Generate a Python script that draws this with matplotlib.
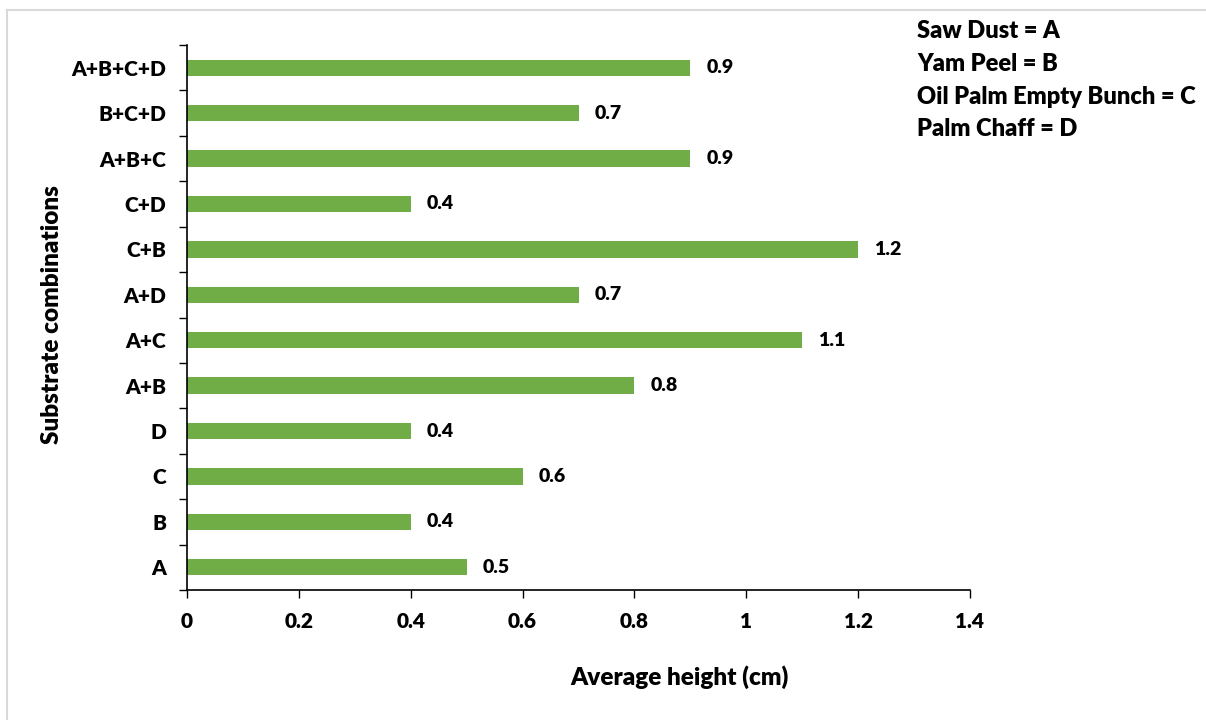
import matplotlib
matplotlib.use("Agg")
import matplotlib.pyplot as plt
from matplotlib.lines import Line2D
from matplotlib.ticker import FixedLocator, NullFormatter

plt.rcParams['font.family'] = ['Lato', 'DejaVu Sans']

# Substrate combinations, bottom to top
categories = ['A', 'B', 'C', 'D', 'A+B', 'A+C', 'A+D', 'C+B', 'C+D',
              'A+B+C', 'B+C+D', 'A+B+C+D']
heights = [0.5, 0.4, 0.6, 0.4, 0.8, 1.1, 0.7, 1.2, 0.4, 0.9, 0.7, 0.9]
x_ticks = [0, 0.2, 0.4, 0.6, 0.8, 1.0, 1.2, 1.4]
x_tick_labels = ['0', '0.2', '0.4', '0.6', '0.8', '1', '1.2', '1.4']
key_lines = ['Saw Dust = A', 'Yam Peel = B', 'Oil Palm Empty Bunch = C', 'Palm Chaff = D']

WEIGHT = 'heavy'

W, H = 1206, 720
fig = plt.figure(figsize=(W / 100, H / 100), dpi=100)

ax = fig.add_axes([187 / W, 1 - 590 / H, (970 - 187) / W, (590 - 45) / H])
pos = list(range(len(categories)))
ax.barh(pos, heights, height=0.36, color='#70AD47')

ax.set_xlim(0, 1.4)
ax.set_ylim(-0.5, len(categories) - 0.5)

# Value labels at bar ends
for p, v in zip(pos, heights):
    ax.annotate(f'{v:g}', xy=(v, p), xytext=(11.5, 0), textcoords='offset points',
                ha='left', va='center', fontsize=14, fontweight=WEIGHT)

# Axis styling
for side in ('top', 'right'):
    ax.spines[side].set_visible(False)
for side in ('left', 'bottom'):
    ax.spines[side].set_color('black')
    ax.spines[side].set_linewidth(1.2)

ax.set_xticks(x_ticks)
ax.set_xticklabels(x_tick_labels, fontsize=15, fontweight=WEIGHT)
ax.tick_params(axis='x', direction='out', length=6, width=1, pad=10)

# Category labels without ticks; ticks at category boundaries
ax.set_yticks(pos)
ax.set_yticklabels(categories, fontsize=15, fontweight=WEIGHT)
ax.tick_params(axis='y', which='major', length=0, pad=15)
ax.yaxis.set_minor_locator(FixedLocator([p - 0.5 for p in pos] + [pos[-1] + 0.5]))
ax.yaxis.set_minor_formatter(NullFormatter())
ax.tick_params(axis='y', which='minor', direction='out', length=6, width=1)

# Axis titles
fig.text(680 / W, 1 - 677 / H, 'Average height (cm)', fontsize=17.5,
         fontweight=WEIGHT, ha='center', va='center')
fig.text(52 / W, 1 - 315 / H, 'Substrate combinations', fontsize=17.5,
         fontweight=WEIGHT, ha='center', va='center', rotation=90)

# Key of substrate letters
for i, line in enumerate(key_lines):
    fig.text(917 / W, 1 - (31.5 + 32.5 * i) / H, line, fontsize=17,
             fontweight=WEIGHT, ha='left', va='center')

# Chart area frame (left and top edges)
fig.add_artist(Line2D([6.5 / W, 6.5 / W], [0, 1 - 10 / H], transform=fig.transFigure,
                      color='#d9d9d9', linewidth=1.5))
fig.add_artist(Line2D([6.5 / W, 1], [1 - 10 / H, 1 - 10 / H], transform=fig.transFigure,
                      color='#d9d9d9', linewidth=1.5))

fig.savefig('out.png', dpi=100, facecolor='white')
